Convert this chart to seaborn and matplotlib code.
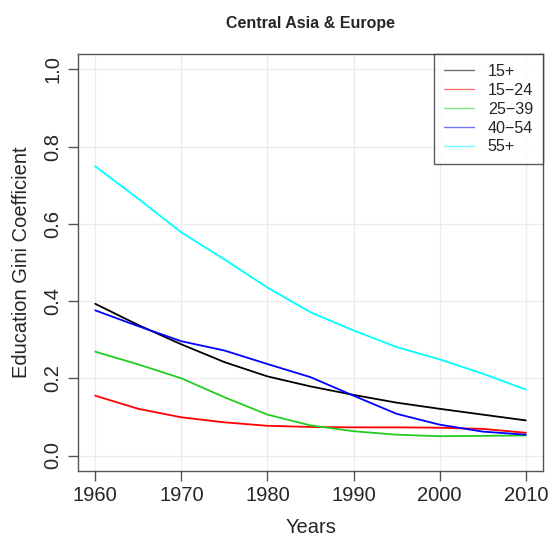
import matplotlib
matplotlib.use("Agg")
import matplotlib.pyplot as plt
import seaborn as sns
import pandas as pd

years = [1960, 1965, 1970, 1975, 1980, 1985, 1990, 1995, 2000, 2005, 2010]
gini_15plus = [0.393, 0.338, 0.288, 0.242, 0.205, 0.179, 0.157, 0.137, 0.121, 0.106, 0.091]
gini_15_24 = [0.155, 0.121, 0.099, 0.086, 0.077, 0.074, 0.073, 0.073, 0.072, 0.069, 0.059]
gini_25_39 = [0.269, 0.236, 0.200, 0.151, 0.106, 0.078, 0.063, 0.054, 0.050, 0.051, 0.052]
gini_40_54 = [0.376, 0.335, 0.296, 0.272, 0.237, 0.203, 0.155, 0.108, 0.080, 0.062, 0.054]
gini_55plus = [0.749, 0.665, 0.578, 0.508, 0.435, 0.371, 0.324, 0.281, 0.249, 0.212, 0.171]

groups = ["15+", "15\u221224", "25\u221239", "40\u221254", "55+"]
colors = ["black", "red", "#22cc22", "blue", "cyan"]

series = [gini_15plus, gini_15_24, gini_25_39, gini_40_54, gini_55plus]
df = pd.DataFrame({
    "Years": years * len(groups),
    "Gini": [v for s in series for v in s],
    "Group": [g for g in groups for _ in years],
})

sns.set_theme(style="ticks")
plt.rcParams["font.family"] = ["Liberation Sans", "DejaVu Sans"]

fig = plt.figure(figsize=(5.54, 5.36), dpi=100)
ax = fig.add_axes([0.1408, 0.1213, 0.8394, 0.7780])

sns.lineplot(data=df, x="Years", y="Gini", hue="Group", hue_order=groups,
             palette=dict(zip(groups, colors)), linewidth=1.3, ax=ax)

ax.set_xlim(1958, 2012)
ax.set_ylim(-0.04, 1.04)
ax.set_xticks([1960, 1970, 1980, 1990, 2000, 2010])
ax.set_yticks([0.0, 0.2, 0.4, 0.6, 0.8, 1.0])
ax.set_yticklabels(["0.0", "0.2", "0.4", "0.6", "0.8", "1.0"], rotation=90, va="center")
ax.grid(True, color="#ececec", linewidth=1.0)
ax.set_axisbelow(True)
for sp in ax.spines.values():
    sp.set_color("#555555")
    sp.set_linewidth(1.0)
ax.tick_params(axis="both", direction="out", length=7, width=1.0, color="#555555",
               labelsize=14.5, pad=4)

ax.set_xlabel("Years", fontsize=14.5, labelpad=9)
ax.set_ylabel("Education Gini Coefficient", fontsize=14.5, labelpad=9)
ax.set_title("Central Asia & Europe", fontsize=11.5, fontweight="bold", pad=19)

leg = ax.legend(loc="upper right", bbox_to_anchor=(1.0, 1.0), borderaxespad=0,
                fontsize=11.6, frameon=True, fancybox=False, handlelength=1.85,
                handletextpad=0.85, labelspacing=0.24, borderpad=0.62,
                title=None)
leg.get_frame().set_edgecolor("#333333")
leg.get_frame().set_linewidth(1.0)
for line in leg.get_lines():
    line.set_linewidth(1.0)
    line.set_alpha(0.55)

fig.savefig("out.png", dpi=100)
